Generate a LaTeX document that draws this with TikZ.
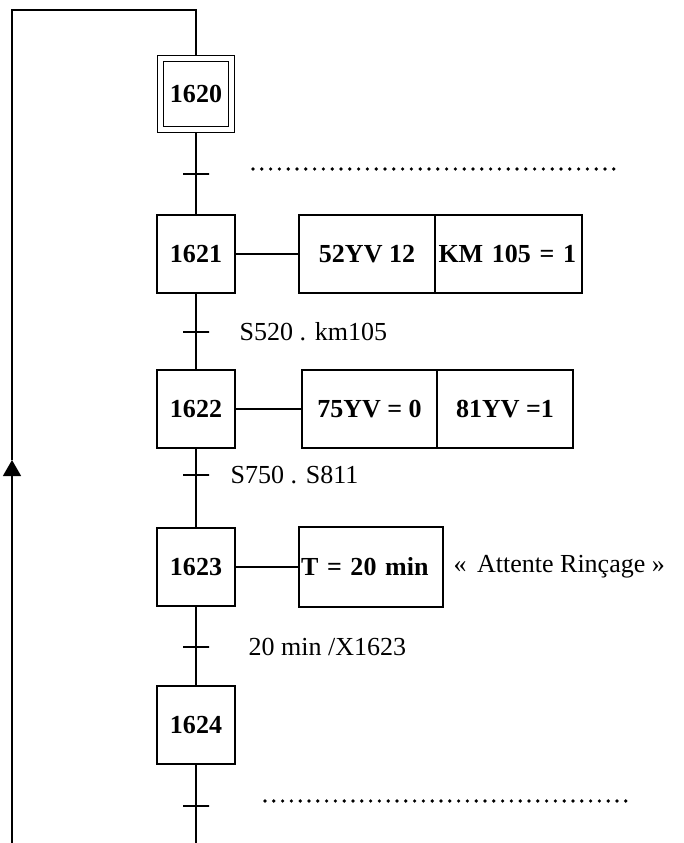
\documentclass[tikz,border=0pt]{standalone}
\usepackage{fontspec}
\setmainfont{Liberation Serif}
\usepackage{tikz}
\usetikzlibrary{arrows.meta,positioning}
\newcommand{\grafsize}{\fontsize{18.5pt}{22pt}\selectfont}

\begin{document}
\begin{tikzpicture}[line width=1pt,
  stepbox/.style={draw,line width=1.1pt,minimum size=1.95cm,inner sep=0pt,font=\grafsize\bfseries},
  initstep/.style={draw,double,double distance=3.2pt,line width=1.1pt,minimum size=1.775cm,outer sep=2.7pt,inner sep=0pt,font=\grafsize\bfseries},
  actbox/.style={draw,line width=1.1pt,minimum height=1.95cm,outer sep=0pt,inner sep=0pt,font=\grafsize\bfseries},
  trans/.style={draw,minimum width=0.65cm,minimum height=0pt,inner sep=0pt,outer sep=0pt},
  cond/.style={inner sep=0pt,anchor=west,font=\grafsize},
  dotline/.style={line width=2.6pt,line cap=round,dash pattern=on 0pt off 0.22cm}]
  \useasboundingbox (0,0) rectangle (17.075,-21.075);

  % steps
  \node[initstep] (s1620) at (4.9,-2.35) {1620};
  \foreach \n/\y in {1621/-6.35,1622/-10.225,1623/-14.175,1624/-18.125}{
    \node[stepbox] (s\n) at (4.9,\y) {\n};
  }
  % transitions
  \foreach \i/\y in {1/-4.35,2/-8.3,3/-11.875,4/-16.175,5/-20.15}{
    \node[trans] (t\i) at (4.9,\y) {};
  }
  \node[cond,right=0.75cm of t2] (c2) {S520 . km105};
  \node[cond,right=0.525cm of t3] (c3) {S750 . S811};
  \node[cond,right=0.975cm of t4] (c4) {20 min /X1623};

  % actions
  \node[actbox,minimum width=3.4cm] (a1621a) at (9.175,-6.35) {52YV 12};
  \node[actbox,text width=3.5cm,align=left,inner xsep=0.0875cm,right=0pt of a1621a] (a1621b) {KM 105 = 1};
  \node[actbox,minimum width=3.375cm] (a1622a) at (9.2375,-10.225) {75YV = 0};
  \node[actbox,minimum width=3.4cm,right=0pt of a1622a] (a1622b) {81YV =1};
  \node[actbox,minimum height=2cm,text width=3.5cm,align=left,inner xsep=0.05cm] (a1623) at (9.275,-14.175) {T = 20 min};
  \node[cond,right=0.25cm of a1623] (r1623) {«\hspace{0.4em}Attente Rinçage »};

  \draw (s1621) -- (a1621a);
  \draw (s1622) -- (a1622a);
  \draw (s1623) -- (a1623);

  % main line
  \coordinate (mainbot) at (4.9,-21.075);
  \draw (s1620) -- (t1) -- (s1621) -- (t2) -- (s1622) -- (t3) -- (s1623) -- (t4) -- (s1624) -- (t5) -- (mainbot);

  % loop back
  \coordinate (loopbot) at (0.3,-21.075);
  \coordinate (looparr) at (0.3,-11.5);
  \coordinate (looptop) at (0.3,-0.25);
  \draw[-{Triangle[width=0.45cm,length=0.4cm]}] (loopbot) -- (looparr);
  \draw (looparr) -- (looptop) -| (s1620.north);

  % dotted continuations
  \draw[dotline] (6.325,-4.225) -- (15.425,-4.225);
  \draw[dotline] (6.625,-20.025) -- (15.7,-20.025);
\end{tikzpicture}
\end{document}
